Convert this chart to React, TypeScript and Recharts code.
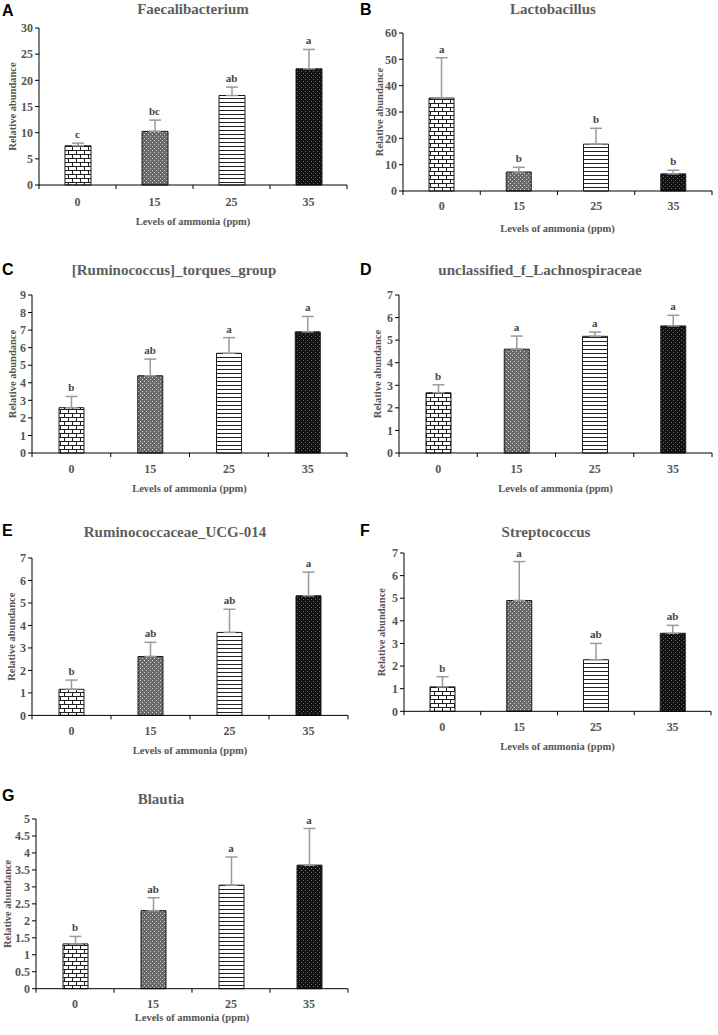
import React from 'react';
import { ComposedChart, Bar, Line, XAxis, YAxis, ErrorBar, LabelList, Cell } from 'recharts';

// ammonia levels (ppm)
const levels = ['0', '15', '25', '35'];

// A
const faecMean = [7.5, 10.25, 17.1, 22.2];
const faecErr = [0.5, 2.15, 1.6, 3.7];
const faecSig = ['c', 'bc', 'ab', 'a'];
const faecTicks = [0, 5, 10, 15, 20, 25, 30];

// B
const lactoMean = [35.3, 7.2, 17.8, 6.5];
const lactoErr = [15.3, 1.8, 6.0, 1.4];
const lactoSig = ['a', 'b', 'b', 'b'];
const lactoTicks = [0, 10, 20, 30, 40, 50, 60];

// C
const torqMean = [2.58, 4.4, 5.68, 6.9];
const torqErr = [0.64, 0.95, 0.89, 0.88];
const torqSig = ['b', 'ab', 'a', 'a'];
const torqTicks = [0, 1, 2, 3, 4, 5, 6, 7, 8, 9];

// D
const lachMean = [2.67, 4.6, 5.17, 5.63];
const lachErr = [0.35, 0.58, 0.19, 0.47];
const lachSig = ['b', 'a', 'a', 'a'];
const lachTicks = [0, 1, 2, 3, 4, 5, 6, 7];

// E
const ucgMean = [1.16, 2.62, 3.69, 5.32];
const ucgErr = [0.41, 0.63, 1.03, 1.05];
const ucgSig = ['b', 'ab', 'ab', 'a'];
const ucgTicks = [0, 1, 2, 3, 4, 5, 6, 7];

// F
const strepMean = [1.08, 4.9, 2.28, 3.45];
const strepErr = [0.45, 1.72, 0.72, 0.35];
const strepSig = ['b', 'a', 'ab', 'ab'];
const strepTicks = [0, 1, 2, 3, 4, 5, 6, 7];

// G
const blautMean = [1.32, 2.3, 3.05, 3.64];
const blautErr = [0.22, 0.38, 0.83, 1.08];
const blautSig = ['b', 'ab', 'a', 'a'];
const blautTicks = [0, 0.5, 1, 1.5, 2, 2.5, 3, 3.5, 4, 4.5, 5];

const FONT = "'Liberation Serif', 'Times New Roman', serif";
const TEXT = '#555';
const fills = ['brick', 'dots', 'stripes', 'dark'];

const panels = [
  { id: 'A', title: 'Faecalibacterium', mean: faecMean, err: faecErr, sig: faecSig, ticks: faecTicks,
    left: 0, axisX: 39, plotTop: 28.3, plotBottom: 185.3, plotRight: 347, barSize: 26,
    titleX: 193, titleY: 9, tagY: 3, tickDy: 17, xTitleDy: 36, yTitleDx: -27 },
  { id: 'B', title: 'Lactobacillus', mean: lactoMean, err: lactoErr, sig: lactoSig, ticks: lactoTicks,
    left: 358, axisX: 403, plotTop: 33, plotBottom: 191, plotRight: 712, barSize: 25,
    titleX: 553, titleY: 9, tagY: 2, tickDy: 15, xTitleDy: 37, yTitleDx: -24 },
  { id: 'C', title: '[Ruminococcus]_torques_group', mean: torqMean, err: torqErr, sig: torqSig, ticks: torqTicks,
    left: 0, axisX: 32, plotTop: 295, plotBottom: 453, plotRight: 347, barSize: 25,
    titleX: 174, titleY: 270, tagY: 262, tickDy: 16, xTitleDy: 35, yTitleDx: -20 },
  { id: 'D', title: 'unclassified_f_Lachnospiraceae', mean: lachMean, err: lachErr, sig: lachSig, ticks: lachTicks,
    left: 358, axisX: 399, plotTop: 295, plotBottom: 453, plotRight: 712, barSize: 25,
    titleX: 540, titleY: 270, tagY: 262, tickDy: 16, xTitleDy: 35, yTitleDx: -22 },
  { id: 'E', title: 'Ruminococcaceae_UCG-014', mean: ucgMean, err: ucgErr, sig: ucgSig, ticks: ucgTicks,
    left: 0, axisX: 32, plotTop: 558.3, plotBottom: 715.7, plotRight: 348, barSize: 25,
    titleX: 175, titleY: 532, tagY: 523, tickDy: 16, xTitleDy: 35, yTitleDx: -20 },
  { id: 'F', title: 'Streptococcus', mean: strepMean, err: strepErr, sig: strepSig, ticks: strepTicks,
    left: 358, axisX: 404, plotTop: 552.7, plotBottom: 711, plotRight: 711, barSize: 25,
    titleX: 546, titleY: 532, tagY: 523, tickDy: 16, xTitleDy: 35, yTitleDx: -22 },
  { id: 'G', title: 'Blautia', mean: blautMean, err: blautErr, sig: blautSig, ticks: blautTicks,
    left: 0, axisX: 36, plotTop: 819.3, plotBottom: 989, plotRight: 348, barSize: 25,
    titleX: 161, titleY: 799, tagY: 788, tickDy: 15, xTitleDy: 29, yTitleDx: -29 },
];

const patternDefs = (id: string) => (
  <defs>
    <pattern id={`${id}-brick`} width={8} height={8} patternUnits="userSpaceOnUse">
      <rect width={8} height={8} fill="#fff" />
      <path d="M0 0.5H8M0 4.5H8M0.5 0.5V4.5M4.5 4.5V8.5" stroke="#222" strokeWidth={1} fill="none" />
    </pattern>
    <pattern id={`${id}-dots`} width={4} height={4} patternUnits="userSpaceOnUse">
      <rect width={4} height={4} fill="#6a6a6a" />
      <rect x={0} y={0} width={1} height={1} fill="#d4d4d4" />
      <rect x={2} y={2} width={1} height={1} fill="#d4d4d4" />
    </pattern>
    <pattern id={`${id}-stripes`} width={4} height={4} patternUnits="userSpaceOnUse">
      <rect width={4} height={4} fill="#fff" />
      <path d="M0 0.5H4" stroke="#222" strokeWidth={1} />
    </pattern>
    <pattern id={`${id}-dark`} width={4} height={4} patternUnits="userSpaceOnUse">
      <rect width={4} height={4} fill="#111" />
      <rect x={1} y={1} width={1} height={1} fill="#6a6a6a" />
      <rect x={3} y={3} width={1} height={1} fill="#6a6a6a" />
    </pattern>
  </defs>
);

const LevelTick = (props: any) => {
  const { x, y, payload, index, labelDy } = props;
  const half = payload.offset ?? 0;
  return (
    <g>
      <line x1={x - half} y1={y} x2={x - half} y2={y + 4} stroke="#000" />
      {index === levels.length - 1 && <line x1={x + half} y1={y} x2={x + half} y2={y + 4} stroke="#000" />}
      <text x={x} y={y + labelDy} textAnchor="middle" dominantBaseline="central"
        fill={TEXT} fontSize={12} fontWeight={700} fontFamily={FONT}>
        {payload.value}
      </text>
    </g>
  );
};

const Panel = ({ p }: { p: (typeof panels)[number] }) => {
  const rows = levels.map((lv, i) => ({
    level: lv,
    mean: p.mean[i],
    err: [0, p.err[i]],
    hi: p.mean[i] + p.err[i],
    sig: p.sig[i],
  }));
  const top = p.plotTop - 10;
  const xAxisH = 45;
  const width = p.plotRight - p.left + 8;
  const height = p.plotBottom - top + xAxisH;
  const yMax = p.ticks[p.ticks.length - 1];

  return (
    <div style={{ position: 'absolute', left: p.left, top }}>
      <ComposedChart width={width} height={height} data={rows}
        margin={{ top: 10, right: 8, left: 0, bottom: 0 }}>
        {patternDefs(`pat${p.id}`)}
        <XAxis dataKey="level" height={xAxisH} axisLine={{ stroke: '#000' }} tickLine={false}
          tickSize={0} tickMargin={0} interval={0}
          tick={(t: any) => <LevelTick {...t} labelDy={p.tickDy} />}
          label={(l: any) => {
            const vb = l.viewBox;
            return (
              <text x={vb.x + vb.width / 2} y={vb.y + p.xTitleDy} textAnchor="middle" dominantBaseline="central"
                fill={TEXT} fontSize={10.5} fontWeight={700} fontFamily={FONT}>
                Levels of ammonia (ppm)
              </text>
            );
          }} />
        <YAxis width={p.axisX - p.left} domain={[0, yMax]} ticks={p.ticks} interval={0}
          axisLine={{ stroke: '#000' }} tickLine={{ stroke: '#000' }} tickSize={4} tickMargin={2}
          tick={{ fill: TEXT, fontSize: 12, fontWeight: 700, fontFamily: FONT }}
          label={(l: any) => {
            const vb = l.viewBox;
            const cx = vb.x + vb.width + p.yTitleDx;
            const cy = vb.y + vb.height / 2;
            return (
              <text x={cx} y={cy} transform={`rotate(-90 ${cx} ${cy})`} textAnchor="middle" dominantBaseline="central"
                fill={TEXT} fontSize={10.5} fontWeight={700} fontFamily={FONT}>
                Relative abundance
              </text>
            );
          }} />
        <Bar dataKey="mean" barSize={p.barSize} isAnimationActive={false}>
          {rows.map((r, i) => (
            <Cell key={r.level} fill={`url(#pat${p.id}-${fills[i]})`} stroke="#1a1a1a" strokeWidth={1} />
          ))}
          <ErrorBar dataKey="err" direction="y" width={6} stroke="#9a9a9a" strokeWidth={1.5} isAnimationActive={false} />
        </Bar>
        <Line dataKey="hi" stroke="none" dot={false} activeDot={false} legendType="none" isAnimationActive={false}>
          <LabelList dataKey="sig" position="top" offset={5} fill="#444" fontSize={11} fontWeight={700} fontFamily={FONT} />
        </Line>
      </ComposedChart>
    </div>
  );
};

export default function App() {
  return (
    <div style={{ position: 'relative', width: 718, height: 1035, background: '#fff', overflow: 'hidden' }}>
      <style>{`body { margin: 0; }`}</style>
      {panels.map((p) => (
        <React.Fragment key={p.id}>
          <div style={{ position: 'absolute', left: p.left + 2, top: p.tagY, fontFamily: "'Liberation Sans', Arial, sans-serif",
            fontWeight: 700, fontSize: 16, lineHeight: 1, color: '#000' }}>{p.id}</div>
          <div style={{ position: 'absolute', left: p.titleX, top: p.titleY, transform: 'translate(-50%, -50%)',
            whiteSpace: 'nowrap', fontFamily: FONT, fontWeight: 700, fontSize: 15, lineHeight: 1, color: '#5e5e5e' }}>
            {p.title}
          </div>
          <Panel p={p} />
        </React.Fragment>
      ))}
    </div>
  );
}
